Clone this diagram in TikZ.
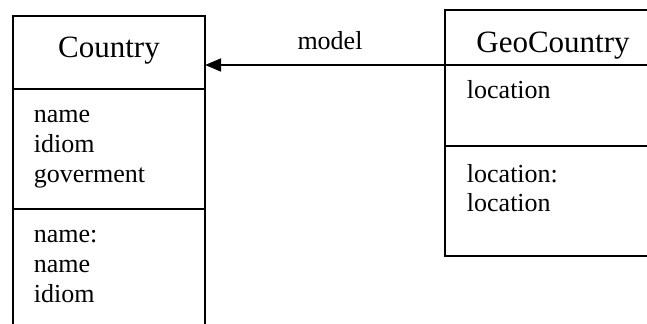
\documentclass[tikz,border=0pt]{standalone}
\usepackage{fontspec}
\setmainfont{Liberation Serif}
\usepackage{tikz}
\usetikzlibrary{arrows.meta}

\tikzset{
    title/.style={anchor=base, inner sep=0pt, font=\fontsize{23.25}{26}\selectfont},
    member/.style={anchor=base west, inner sep=0pt, font=\fontsize{19.5}{22.5}\selectfont},
}

\begin{document}
\begin{tikzpicture}[x=.75pt, y=-.75pt, line width=1.4pt]
    \useasboundingbox (0, 0) rectangle (647, 324);
    \clip (0, 0) rectangle (647, 324);

    % draw Country class box
    \draw (13, 400) -- (13, 16) -- (205, 16) -- (205, 400);
    \draw (13, 89) -- (205, 89);
    \draw (13, 209) -- (205, 209);
    \coordinate (countryport) at (205, 65);

    % draw GeoCountry class box
    \draw (700, 10) -- (445, 10) -- (445, 256) -- (700, 256);
    \draw (445, 65) -- (700, 65);
    \draw (445, 146) -- (700, 146);
    \coordinate (geoport) at (445, 65);

    % class names
    \node[title] (countryname) at (109, 58) {Country};
    \node[title] (geoname) at (553, 53) {GeoCountry};

    % attributes and operations
    \node[member] (cname) at (33, 123) {name};
    \node[member] (cidiom) at (33, 153) {idiom};
    \node[member] (cgov) at (33, 183) {goverment};
    \node[member] (cop) at (33, 243) {name:};
    \node[member] (copname) at (33, 273) {name};
    \node[member] (copidiom) at (33, 303) {idiom};

    \node[member] (gloc) at (466, 99) {location};
    \node[member] (gop) at (466, 183) {location:};
    \node[member] (goploc) at (466, 212) {location};

    % association
    \draw[-{Triangle[length=12pt, width=9.5pt]}, line width=2pt] (geoport) -- (countryport);
    \node[member, anchor=base] (model) at (330, 50) {model};
\end{tikzpicture}
\end{document}
